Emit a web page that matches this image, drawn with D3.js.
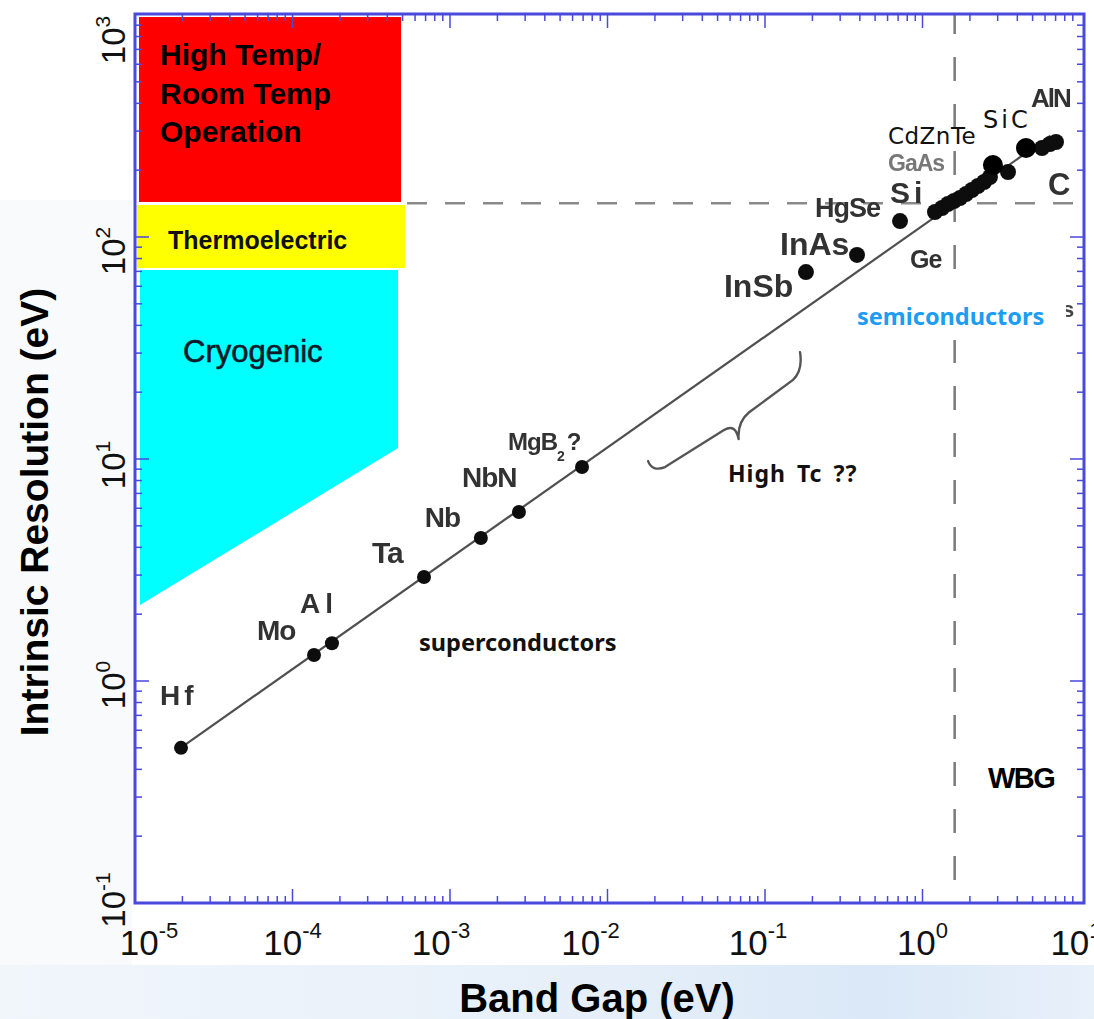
<!DOCTYPE html>
<html><head><meta charset="utf-8">
<script src="https://cdn.jsdelivr.net/npm/d3@7"></script>
<style>html,body{margin:0;padding:0;background:#fff;}svg{display:block;}</style>
</head><body>
<script>
// ---------------- data ----------------
const xTickValues = [1e-5, 1e-4, 1e-3, 1e-2, 1e-1, 1, 10];
const xTickExp = ["-5", "-4", "-3", "-2", "-1", "0", "1"];
const yTickValues = [0.1, 1, 10, 100, 1000];
const yTickExp = ["-1", "0", "1", "2", "3"];

const superNames = ["Hf", "Mo", "Al", "Ta", "Nb", "NbN", "MgB2"];
const superGap = [1.96e-5, 1.37e-4, 1.78e-4, 6.84e-4, 1.57e-3, 2.74e-3, 6.89e-3];
const superRes = [0.50, 1.31, 1.48, 2.94, 4.41, 5.77, 9.2];

const semiGap = [0.182, 0.384, 0.72, 1.20, 1.33, 1.45, 1.585, 1.73, 1.89, 2.06, 2.25, 2.46, 2.68, 3.49, 5.74, 6.45, 7.04];
const semiRes = [69.5, 83, 118, 129.6, 135.1, 140.8, 145.3, 149.9, 156.2, 162.8, 169.7, 176.9, 186.3, 196.3, 251.7, 262.4, 267.9];
const semiLabels = ["InSb", "InAs", "HgSe", "S i", "GaAs", "Ge", "AlN", "C"];
const semiLabelPoint = [0, 1, 2, 2, 2, 3, 14, 16];

const highlightNames = ["CdZnTe", "SiC"];
const highlightGap = [2.80, 4.54];
const highlightRes = [211, 251.7];

const trendGap = [1.95e-5, 6.5];
const trendRes = [0.50, 286];

const wbgGap = 1.6;
const roomTempRes = 142;

// operating regions (band gap range, resolution range)
const redGap = [1.06e-5, 4.89e-4], redRes = [143.8, 979];
const yellowGap = [1.03e-5, 5.18e-4], yellowRes = [72.5, 139.3];
const cyanGap = [1.076e-5, 4.68e-4, 4.68e-4, 1.076e-5];
const cyanRes = [71.0, 71.0, 11.2, 2.20];

// "High Tc" brace outline points (band gap, resolution)
const braceGap = [0.0181, 0.0192, 0.0232, 0.0549, 0.0650, 0.0680, 0.0668, 0.0790, 0.1506, 0.1743, 0.1668];
const braceRes = [9.79, 8.74, 9.20, 13.5, 14.5, 12.3, 14.7, 16.2, 22.7, 25.2, 30.3];

// ---------------- layout ----------------
const W = 1094, H = 1019;
const frame = {l: 135, r: 1084, t: 14, b: 903};
const x = d3.scaleLog().domain([1e-5, 10]).range([135, 1080]);
const y = d3.scaleLog().domain([0.1, 1000]).range([903, 15]);

const svg = d3.select("body").append("svg").attr("width", W).attr("height", H);
const defs = svg.append("defs");
defs.append("filter").attr("id", "soft").attr("filterUnits", "userSpaceOnUse")
  .attr("x", 0).attr("y", 0).attr("width", W).attr("height", H)
  .append("feGaussianBlur").attr("stdDeviation", 0.7);
const grad = defs.append("linearGradient").attr("id", "bg").attr("x1", 0).attr("x2", 1).attr("y1", 0).attr("y2", 0);
grad.append("stop").attr("offset", "0%").attr("stop-color", "#f1f6fb");
grad.append("stop").attr("offset", "55%").attr("stop-color", "#e6eff9");
grad.append("stop").attr("offset", "80%").attr("stop-color", "#dae8f7");
grad.append("stop").attr("offset", "100%").attr("stop-color", "#e8f0fa");
defs.append("clipPath").attr("id", "plotclip").append("rect")
  .attr("x", frame.l).attr("y", frame.t).attr("width", frame.r - frame.l).attr("height", frame.b - frame.t);

// background
svg.append("rect").attr("width", W).attr("height", H).attr("fill", "#fff");
svg.append("rect").attr("x", 0).attr("y", 200).attr("width", frame.l - 3).attr("height", 765).attr("fill", "#f9fafc");
svg.append("rect").attr("x", 0).attr("y", 965).attr("width", W).attr("height", H - 965).attr("fill", "url(#bg)");

const plot = svg.append("g").attr("clip-path", "url(#plotclip)");

// dashed thresholds
plot.append("line").attr("x1", x(yellowGap[1]) + 2).attr("x2", frame.r).attr("y1", y(roomTempRes)).attr("y2", y(roomTempRes))
  .attr("stroke", "#8a8a8a").attr("stroke-width", 2.5).attr("stroke-dasharray", "20,18").attr("filter", "url(#soft)");
plot.append("line").attr("x1", x(wbgGap)).attr("x2", x(wbgGap)).attr("y1", frame.t).attr("y2", frame.b)
  .attr("stroke", "#7a7a7a").attr("stroke-width", 2.5).attr("stroke-dasharray", "24,23").attr("stroke-dashoffset", -90).attr("filter", "url(#soft)");

// regions
plot.append("rect").attr("x", x(redGap[0])).attr("width", x(redGap[1]) - x(redGap[0]))
  .attr("y", y(redRes[1])).attr("height", y(redRes[0]) - y(redRes[1])).attr("fill", "#ff0000");
plot.append("rect").attr("x", x(yellowGap[0])).attr("width", x(yellowGap[1]) - x(yellowGap[0]))
  .attr("y", y(yellowRes[1])).attr("height", y(yellowRes[0]) - y(yellowRes[1])).attr("fill", "#ffff00");
plot.append("polygon").attr("points", cyanGap.map((g, i) => [x(g), y(cyanRes[i])].join(",")).join(" "))
  .attr("fill", "#00ffff");

// trend line
plot.append("line").attr("x1", x(trendGap[0])).attr("y1", y(trendRes[0])).attr("x2", x(trendGap[1])).attr("y2", y(trendRes[1]))
  .attr("stroke", "#505050").attr("stroke-width", 2.2).attr("filter", "url(#soft)");

// brace
const bp = braceGap.map((g, i) => [x(g), y(braceRes[i])]);
const brace = `M${bp[0]} Q${bp[1]} ${bp[2]} L${bp[3]} Q${bp[4]} ${bp[5]} M${bp[5]} Q${bp[6]} ${bp[7]} L${bp[8]} Q${bp[9]} ${bp[10]}`;
plot.append("path").attr("d", brace).attr("fill", "none").attr("stroke", "#555").attr("stroke-width", 2.4)
  .attr("stroke-linecap", "round").attr("filter", "url(#soft)");

// points
const pts = plot.append("g").attr("filter", "url(#soft)");
superGap.forEach((g, i) => pts.append("circle").attr("cx", x(g)).attr("cy", y(superRes[i])).attr("r", 7).attr("fill", "#111"));
semiGap.forEach((g, i) => pts.append("circle").attr("cx", x(g)).attr("cy", y(semiRes[i])).attr("r", 8).attr("fill", "#111"));

// point labels (original figure style)
const lab = plot.append("g").attr("filter", "url(#soft)").attr("font-family", "'Liberation Sans', Arial, sans-serif")
  .attr("font-weight", "bold").attr("fill", "#333");
const superOff = {Hf: [-21, -43, 28, 4], Mo: [-57, -15, 28, -1], Al: [-32, -30, 28, 5], Ta: [-52, -14, 30, -1],
  Nb: [-56, -11, 28, -1], NbN: [-57, -25, 28, -1]};
superNames.forEach((n, i) => {
  if (n === "MgB2") {
    const t = lab.append("text").attr("x", x(superGap[i]) - 74).attr("y", y(superRes[i]) - 17).attr("font-size", 24).attr("letter-spacing", -1);
    t.append("tspan").text("MgB");
    t.append("tspan").attr("font-size", 14).attr("dy", 11).text("2");
    t.append("tspan").attr("dy", -11).attr("dx", 3).text("?");
    return;
  }
  const o = superOff[n];
  lab.append("text").attr("x", x(superGap[i]) + o[0]).attr("y", y(superRes[i]) + o[1]).attr("font-size", o[2])
    .attr("letter-spacing", o[3]).text(n);
});
const semiOff = [[-82, 25, 32, 0], [-77, 0, 32, 0], [-85, -4, 27, -1], [-10, -18, 30, 4], [-12, -50, 23, -1],
  [-25, 56, 25, -1], [-11, -41, 26, -2], [-8, 53, 31, 0]];
semiLabels.forEach((n, i) => {
  const p = semiLabelPoint[i], o = semiOff[i];
  lab.append("text").attr("x", x(semiGap[p]) + o[0]).attr("y", y(semiRes[p]) + o[1]).attr("font-size", o[2])
    .attr("letter-spacing", o[3]).attr("fill", n === "GaAs" ? "#777" : "#333").text(n.replace(" ", ""));
});

// overlay highlight points & labels
const hlOff = [[-105, -21, 23, 0.5], [-43, -20, 24, 3]];
highlightGap.forEach((g, i) => {
  plot.append("circle").attr("cx", x(g)).attr("cy", y(highlightRes[i])).attr("r", 10).attr("fill", "#000");
  const o = hlOff[i];
  plot.append("text").attr("x", x(g) + o[0]).attr("y", y(highlightRes[i]) + o[1]).attr("font-size", o[2])
    .attr("letter-spacing", o[3]).attr("font-family", "'DejaVu Sans', sans-serif").attr("fill", "#111").text(highlightNames[i]);
});

// white patch + semiconductors label
plot.append("text").attr("x", 1062).attr("y", 317).attr("font-size", 22).attr("font-weight", "bold")
  .attr("font-family", "'Liberation Sans', Arial").attr("fill", "#444").attr("filter", "url(#soft)").text("s");
plot.append("rect").attr("x", 850).attr("y", 288).attr("width", 216).attr("height", 52).attr("fill", "#fff");
const ov = plot.append("g").attr("font-family", "'Noto Sans', 'Liberation Sans', sans-serif").attr("font-weight", "bold");
ov.append("text").attr("x", 857).attr("y", 325).attr("font-size", 23.5).attr("fill", "#1c9cf2").text("semiconductors");
ov.append("text").attr("x", 419).attr("y", 651).attr("font-size", 23.5).attr("fill", "#111").text("superconductors");
ov.append("text").attr("x", 728).attr("y", 482).attr("font-size", 23).attr("fill", "#111").attr("letter-spacing", 1).attr("word-spacing", 4).text("High Tc ??");
ov.append("text").attr("x", 988).attr("y", 788).attr("font-size", 29).attr("fill", "#000").attr("letter-spacing", -1.5)
  .attr("font-family", "'Liberation Sans', Arial").text("WBG");

// region labels
const rl = plot.append("g").attr("font-family", "'Liberation Sans', Arial, sans-serif");
["High Temp/", "Room Temp", "Operation"].forEach((t, i) =>
  rl.append("text").attr("x", 160).attr("y", 65 + i * 38.5).attr("font-size", 30).attr("font-weight", "bold").attr("fill", "#000").text(t));
rl.append("text").attr("x", 168).attr("y", 249).attr("font-size", 25).attr("font-weight", "bold").attr("fill", "#111").text("Thermoelectric");
rl.append("text").attr("x", 183).attr("y", 362).attr("font-size", 31).attr("fill", "#0c1a2a").attr("stroke", "#0c1a2a").attr("stroke-width", 0.6).text("Cryogenic");

// frame & ticks
const fr = svg.append("g").attr("filter", "url(#soft)").attr("stroke", "#4848dc");
fr.append("rect").attr("x", frame.l).attr("y", frame.t).attr("width", frame.r - frame.l).attr("height", frame.b - frame.t)
  .attr("fill", "none").attr("stroke-width", 3);
for (let d = -5; d <= 0; d++) for (let m = 1; m <= 9; m++) {
  const v = m * Math.pow(10, d), px = x(v), len = m === 1 ? 14 : 7;
  if (px <= frame.l + 1) continue;
  fr.append("line").attr("x1", px).attr("x2", px).attr("y1", frame.b).attr("y2", frame.b - len).attr("stroke-width", 1.5);
  fr.append("line").attr("x1", px).attr("x2", px).attr("y1", frame.t).attr("y2", frame.t + len).attr("stroke-width", 1.5);
}
for (let d = -1; d <= 2; d++) for (let m = 1; m <= 9; m++) {
  const v = m * Math.pow(10, d), py = y(v), len = m === 1 ? 14 : 7;
  if (py >= frame.b - 1) continue;
  fr.append("line").attr("y1", py).attr("y2", py).attr("x1", frame.l).attr("x2", frame.l + len).attr("stroke-width", 1.5);
  fr.append("line").attr("y1", py).attr("y2", py).attr("x1", frame.r).attr("x2", frame.r - len).attr("stroke-width", 1.5);
}

// tick labels
const tickFont = "'Liberation Sans Narrow', 'Liberation Sans', Arial, sans-serif";
const xNudge = [14, 0, -9, -17, -7, 0, -4];
xTickValues.forEach((v, i) => {
  const t = svg.append("text").attr("x", x(v) + xNudge[i]).attr("y", 955).attr("text-anchor", "middle")
    .attr("font-family", tickFont).attr("font-size", 35).attr("fill", "#111");
  t.append("tspan").text("10");
  t.append("tspan").attr("dy", -17).attr("font-size", 22).text(xTickExp[i]);
});
const yNudge = [-3, 4, 6, 14, 25];
yTickValues.forEach((v, i) => {
  const cy = y(v) + yNudge[i];
  const t = svg.append("text").attr("transform", `translate(125,${cy}) rotate(-90)`).attr("text-anchor", "middle")
    .attr("font-family", tickFont).attr("font-size", 33).attr("fill", "#111");
  t.append("tspan").text("10");
  t.append("tspan").attr("dy", -15).attr("font-size", 21).text(yTickExp[i]);
});

// axis titles
svg.append("text").attr("x", 597).attr("y", 1012).attr("text-anchor", "middle").attr("font-family", "'Liberation Sans', Arial")
  .attr("font-weight", "bold").attr("font-size", 40).attr("fill", "#000").text("Band Gap (eV)");
svg.append("text").attr("transform", "translate(48,512) rotate(-90)").attr("text-anchor", "middle").attr("font-family", "'Liberation Sans', Arial")
  .attr("font-weight", "bold").attr("font-size", 39).attr("fill", "#000").text("Intrinsic Resolution (eV)");
</script>
</body></html>
